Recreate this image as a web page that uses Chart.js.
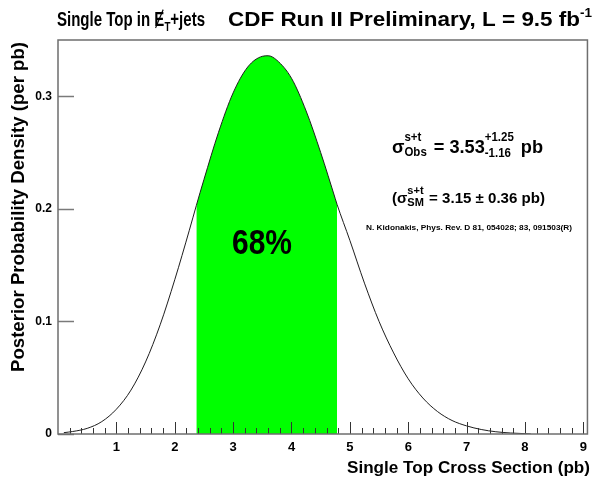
<!DOCTYPE html>
<html>
<head>
<meta charset="utf-8">
<title>Single Top posterior</title>
<script src="https://cdn.jsdelivr.net/npm/chart.js@4.4.0/dist/chart.umd.min.js"></script>
<style>
  html, body { margin: 0; padding: 0; background: #ffffff; }
  #wrap { width: 593px; height: 478px; }
</style>
</head>
<body>
<div id="wrap"><canvas id="c" width="593" height="478"></canvas></div>
<script>
// Posterior probability density vs single top cross section (pb)
const crossSection = [0.1, 0.25, 0.5, 0.75, 1.0, 1.25, 1.5, 1.75, 2.0, 2.25, 2.37, 2.5, 2.75,
  3.0, 3.25, 3.5, 3.6, 3.75, 4.0, 4.25, 4.5, 4.75, 4.78, 5.0, 5.25, 5.5, 5.75, 6.0, 6.25,
  6.5, 6.75, 7.0, 7.25, 7.5, 7.75, 8.0, 8.1];
const density = [0.0012, 0.0022, 0.0050, 0.011, 0.022, 0.039, 0.064, 0.097, 0.137, 0.181,
  0.203, 0.226, 0.268, 0.303, 0.326, 0.3355, 0.336, 0.332, 0.316, 0.287, 0.250, 0.209,
  0.204, 0.172, 0.134, 0.100, 0.072, 0.049, 0.032, 0.020, 0.012, 0.0072, 0.004, 0.002,
  0.0009, 0.0003, 0];

// Central 68% interval: 3.53 -1.16 / +1.25 pb
const bandLow = 2.37;
const bandHigh = 4.78;

// Axis ranges and tick labels
const xRange = [0, 9.07];
const yRange = [0, 0.35];
const xTickLabels = [1, 2, 3, 4, 5, 6, 7, 8, 9];
const yTickLabels = [0, 0.1, 0.2, 0.3];

const FONT = '"Liberation Sans", Arial, Helvetica, sans-serif';

const curvePoints = crossSection.map((x, i) => ({ x, y: density[i] }));
const bandPoints = curvePoints.filter(p => p.x >= bandLow - 1e-9 && p.x <= bandHigh + 1e-9);

// Text runs; pieces with sup/sub are stacked scripts.
function measureRun(ctx, parts) {
  let w = 0;
  for (const p of parts) {
    ctx.font = `bold ${p.size}px ${FONT}`;
    if (p.t !== undefined) {
      w += ctx.measureText(p.t).width + (p.gap || 0);
    } else if (p.slashE) {
      w += ctx.measureText('E').width;
    } else {
      const a = p.sup ? ctx.measureText(p.sup).width : 0;
      const b = p.sub ? ctx.measureText(p.sub).width : 0;
      w += Math.max(a, b) + (p.gap || 0);
    }
  }
  return w;
}

// Draws the run between x0 and x1 (horizontally fitted) on baseline y.
function drawRun(ctx, x0, x1, y, parts) {
  const natural = measureRun(ctx, parts);
  const kx = x1 ? (x1 - x0) / natural : 1;
  ctx.save();
  ctx.translate(x0, y);
  ctx.scale(kx, 1);
  ctx.textAlign = 'left';
  ctx.textBaseline = 'alphabetic';
  ctx.fillStyle = '#000';
  let x = 0;
  for (const p of parts) {
    ctx.font = `bold ${p.size}px ${FONT}`;
    if (p.t !== undefined) {
      ctx.fillText(p.t, x, 0);
      x += ctx.measureText(p.t).width + (p.gap || 0);
    } else if (p.slashE) {
      const w = ctx.measureText('E').width;
      ctx.fillText('E', x, 0);
      const cap = p.size * 0.72;
      ctx.strokeStyle = '#000';
      ctx.lineWidth = 1.5;
      ctx.beginPath();
      ctx.moveTo(x + w * 0.12, 2);
      ctx.lineTo(x + w * 0.88, -cap - 2);
      ctx.stroke();
      x += w;
    } else {
      let w = 0;
      if (p.sup) { ctx.fillText(p.sup, x, -p.up); w = Math.max(w, ctx.measureText(p.sup).width); }
      if (p.sub) { ctx.fillText(p.sub, x, p.down); w = Math.max(w, ctx.measureText(p.sub).width); }
      x += w + (p.gap || 0);
    }
  }
  ctx.restore();
}

const decorations = {
  id: 'decorations',
  afterDraw(chart) {
    const { ctx, chartArea: a, scales: { x: sx, y: sy } } = chart;
    ctx.save();

    // tick marks pointing into the frame
    ctx.strokeStyle = '#333';
    ctx.lineWidth = 1;
    for (let i = 1; i <= 45; i++) {
      const v = i * 0.2;
      const px = Math.round(sx.getPixelForValue(v)) + 0.5;
      const major = i % 5 === 0;
      ctx.beginPath();
      ctx.moveTo(px, a.bottom);
      ctx.lineTo(px, a.bottom - (major ? 12 : 6));
      ctx.stroke();
    }
    ctx.strokeStyle = '#7a7a7a';
    ctx.lineWidth = 1.5;
    for (const v of yTickLabels) {
      const py = Math.round(sy.getPixelForValue(v)) + 0.5;
      ctx.beginPath();
      ctx.moveTo(a.left, py);
      ctx.lineTo(a.left + 16, py);
      ctx.stroke();
    }

    // frame
    ctx.strokeStyle = '#6e6e6e';
    ctx.lineWidth = 1.5;
    ctx.strokeRect(a.left, a.top, a.right - a.left, a.bottom - a.top);

    // title
    drawRun(ctx, 57, 205, 26, [
      { t: 'Single Top in ', size: 20 },
      { slashE: true, size: 20 },
      { sub: 'T', size: 13, down: 5 },
      { t: '+jets', size: 20 }
    ]);
    drawRun(ctx, 228, 592, 26, [
      { t: 'CDF Run II Preliminary, L = 9.5 fb', size: 20 },
      { sup: '-1', size: 12, up: 9 }
    ]);

    // axis titles
    drawRun(ctx, 347, 590, 473, [{ t: 'Single Top Cross Section (pb)', size: 17 }]);
    ctx.save();
    ctx.translate(24, 372);
    ctx.rotate(-Math.PI / 2);
    drawRun(ctx, 0, 330, 0, [{ t: 'Posterior Probability Density (per pb)', size: 18 }]);
    ctx.restore();

    // measured cross section
    drawRun(ctx, 392, 543, 153, [
      { t: 'σ', size: 19 },
      { sup: 's+t', sub: 'Obs', size: 12, up: 12, down: 3, gap: 2 },
      { t: ' = 3.53', size: 19 },
      { sup: '+1.25', sub: '-1.16', size: 12, up: 12, down: 4, gap: 2 },
      { t: ' pb', size: 19 }
    ]);
    // standard model prediction
    drawRun(ctx, 392, 545, 203, [
      { t: '(σ', size: 15 },
      { sup: 's+t', sub: 'SM', size: 11, up: 9, down: 3, gap: 1 },
      { t: ' = 3.15 ± 0.36 pb)', size: 15 }
    ]);
    drawRun(ctx, 366, 572, 230, [
      { t: 'N. Kidonakis, Phys. Rev. D 81, 054028; 83, 091503(R)', size: 7.5 }
    ]);

    // interval label
    drawRun(ctx, 232, 292, 254, [{ t: '68%', size: 35 }]);

    ctx.restore();
  }
};

new Chart(document.getElementById('c'), {
  type: 'line',
  data: {
    datasets: [
      {
        label: 'posterior',
        data: curvePoints,
        borderColor: '#1e1e1e',
        borderWidth: 1,
        pointRadius: 0,
        fill: false,
        cubicInterpolationMode: 'monotone'
      },
      {
        label: '68%',
        data: bandPoints,
        borderWidth: 0,
        borderColor: 'rgba(0,0,0,0)',
        backgroundColor: '#00ff00',
        pointRadius: 0,
        fill: 'origin',
        cubicInterpolationMode: 'monotone'
      }
    ]
  },
  options: {
    responsive: false,
    animation: false,
    devicePixelRatio: 1,
    layout: { padding: { left: 0, right: 3, top: 40, bottom: 0 } },
    plugins: { legend: { display: false }, tooltip: { enabled: false } },
    scales: {
      x: {
        type: 'linear',
        min: xRange[0],
        max: xRange[1],
        grid: { display: false, drawTicks: false, tickLength: 0 },
        border: { display: false },
        afterBuildTicks: s => { s.ticks = xTickLabels.map(v => ({ value: v })); },
        afterFit: s => { s.height = 44; },
        ticks: {
          padding: 6,
          maxRotation: 0,
          autoSkip: false,
          color: '#000',
          font: { family: FONT, size: 13, weight: 'bold' },
          callback: v => String(v)
        }
      },
      y: {
        type: 'linear',
        min: yRange[0],
        max: yRange[1],
        grid: { display: false, drawTicks: false, tickLength: 0 },
        border: { display: false },
        afterBuildTicks: s => { s.ticks = yTickLabels.map(v => ({ value: v })); },
        afterFit: s => { s.width = 58; },
        ticks: {
          padding: 6,
          color: '#000',
          font: { family: FONT, size: 12, weight: 'bold' },
          callback: v => (v === 0 ? '0' : v.toFixed(1))
        }
      }
    }
  },
  plugins: [decorations]
});
</script>
</body>
</html>
